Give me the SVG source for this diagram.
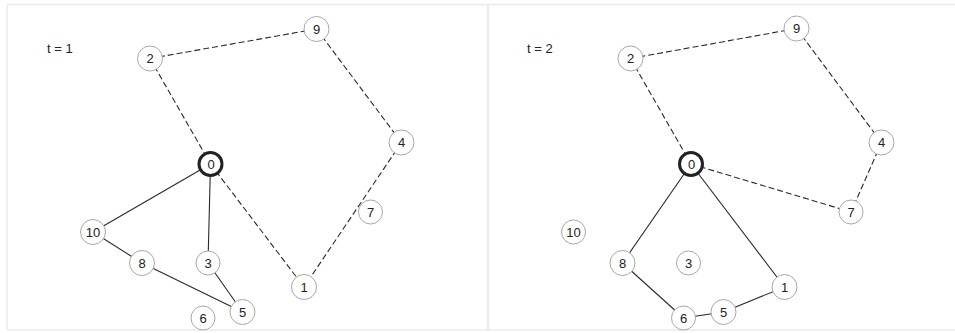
<svg xmlns="http://www.w3.org/2000/svg" width="955" height="333" viewBox="0 0 955 333">
<style>
.frame{stroke:#ebebeb;stroke-width:1.5;fill:none}
.e{stroke:#2a2a2a;stroke-width:1.1;fill:none}
.d{stroke-dasharray:6 3}
.n circle{fill:#fff;stroke:#a8a8a8;stroke-width:1}
.n.root circle{stroke:#222;stroke-width:3}
text{font-family:"Liberation Sans",Arial,sans-serif;font-size:13px;fill:#222}
.n text{text-anchor:middle}
</style>
<rect width="955" height="333" fill="#fff"/>
<g id="frame">
<line class="frame" x1="7" y1="4.5" x2="955" y2="4.5"/>
<line class="frame" x1="7" y1="4.5" x2="7" y2="330"/>
<line class="frame" x1="7" y1="330" x2="955" y2="330"/>
<line class="frame" x1="488" y1="4.5" x2="488" y2="330" style="stroke-width:2.2"/>
</g>
<text x="47" y="53">t = 1</text>
<text x="527" y="53">t = 2</text>
<g id="connectors">
<!-- left panel -->
<line class="e d" x1="150" y1="58.5" x2="316.5" y2="29"/>
<line class="e d" x1="150" y1="58.5" x2="210.5" y2="164"/>
<line class="e d" x1="316.5" y1="29" x2="401.5" y2="142.5"/>
<line class="e d" x1="401.5" y1="142.5" x2="304" y2="287"/>
<line class="e d" x1="210.5" y1="164" x2="304" y2="287"/>
<line class="e" x1="210.5" y1="164" x2="93" y2="232"/>
<line class="e" x1="210.5" y1="164" x2="208" y2="263"/>
<line class="e" x1="93" y1="232" x2="142" y2="263"/>
<line class="e" x1="142" y1="263" x2="242.5" y2="312"/>
<line class="e" x1="208" y1="263" x2="242.5" y2="312"/>
<!-- right panel -->
<line class="e d" x1="630.5" y1="58.5" x2="796.5" y2="28.5"/>
<line class="e d" x1="630.5" y1="58.5" x2="691" y2="164"/>
<line class="e d" x1="796.5" y1="28.5" x2="881.5" y2="142.5"/>
<line class="e d" x1="881.5" y1="142.5" x2="851" y2="212"/>
<line class="e d" x1="691" y1="164" x2="851" y2="212"/>
<line class="e" x1="691" y1="164" x2="622.5" y2="263"/>
<line class="e" x1="691" y1="164" x2="784.5" y2="287"/>
<line class="e" x1="622.5" y1="263" x2="683.5" y2="318"/>
<line class="e" x1="683.5" y1="318" x2="723.5" y2="312"/>
<line class="e" x1="723.5" y1="312" x2="784.5" y2="287"/>
</g>
<g id="L9" class="n"><circle cx="316.5" cy="29" r="12.5"/><text x="316.5" y="33.5">9</text></g>
<g id="L2" class="n"><circle cx="150" cy="58.5" r="12.5"/><text x="150" y="63">2</text></g>
<g id="L4" class="n"><circle cx="401.5" cy="142.5" r="12.5"/><text x="401.5" y="147">4</text></g>
<g id="L0" class="n root"><circle cx="210.5" cy="164" r="11.5"/><text x="211" y="168.5">0</text></g>
<g id="L7" class="n"><circle cx="370.5" cy="212" r="12"/><text x="370.5" y="216.5">7</text></g>
<g id="L10" class="n"><circle cx="93" cy="232" r="12.5"/><text x="93" y="236.5">10</text></g>
<g id="L8" class="n"><circle cx="142" cy="263" r="12.5"/><text x="142" y="267.5">8</text></g>
<g id="L3" class="n"><circle cx="208" cy="263" r="12"/><text x="208" y="267.5">3</text></g>
<g id="L1" class="n"><circle cx="304" cy="287" r="12.5"/><text x="304" y="291.5">1</text></g>
<g id="L5" class="n"><circle cx="242.5" cy="312" r="12.5"/><text x="242.5" y="316.5">5</text></g>
<g id="L6" class="n"><circle cx="203" cy="318" r="12"/><text x="203" y="322.5">6</text></g>
<g id="R9" class="n"><circle cx="796.5" cy="28.5" r="12.5"/><text x="796.5" y="33">9</text></g>
<g id="R2" class="n"><circle cx="630.5" cy="58.5" r="12.5"/><text x="630.5" y="63">2</text></g>
<g id="R4" class="n"><circle cx="881.5" cy="142.5" r="12.5"/><text x="881.5" y="147">4</text></g>
<g id="R0" class="n root"><circle cx="691" cy="164" r="11.5"/><text x="691.5" y="168.5">0</text></g>
<g id="R7" class="n"><circle cx="851" cy="212" r="12"/><text x="851" y="216.5">7</text></g>
<g id="R10" class="n"><circle cx="573.5" cy="232" r="12"/><text x="573.5" y="236.5">10</text></g>
<g id="R8" class="n"><circle cx="622.5" cy="263" r="12.5"/><text x="622.5" y="267.5">8</text></g>
<g id="R3" class="n"><circle cx="688.5" cy="263" r="12"/><text x="688.5" y="267.5">3</text></g>
<g id="R1" class="n"><circle cx="784.5" cy="287" r="12.5"/><text x="784.5" y="291.5">1</text></g>
<g id="R5" class="n"><circle cx="723.5" cy="312" r="12.5"/><text x="723.5" y="316.5">5</text></g>
<g id="R6" class="n"><circle cx="683.5" cy="318" r="12"/><text x="683.5" y="322.5">6</text></g>
</svg>
